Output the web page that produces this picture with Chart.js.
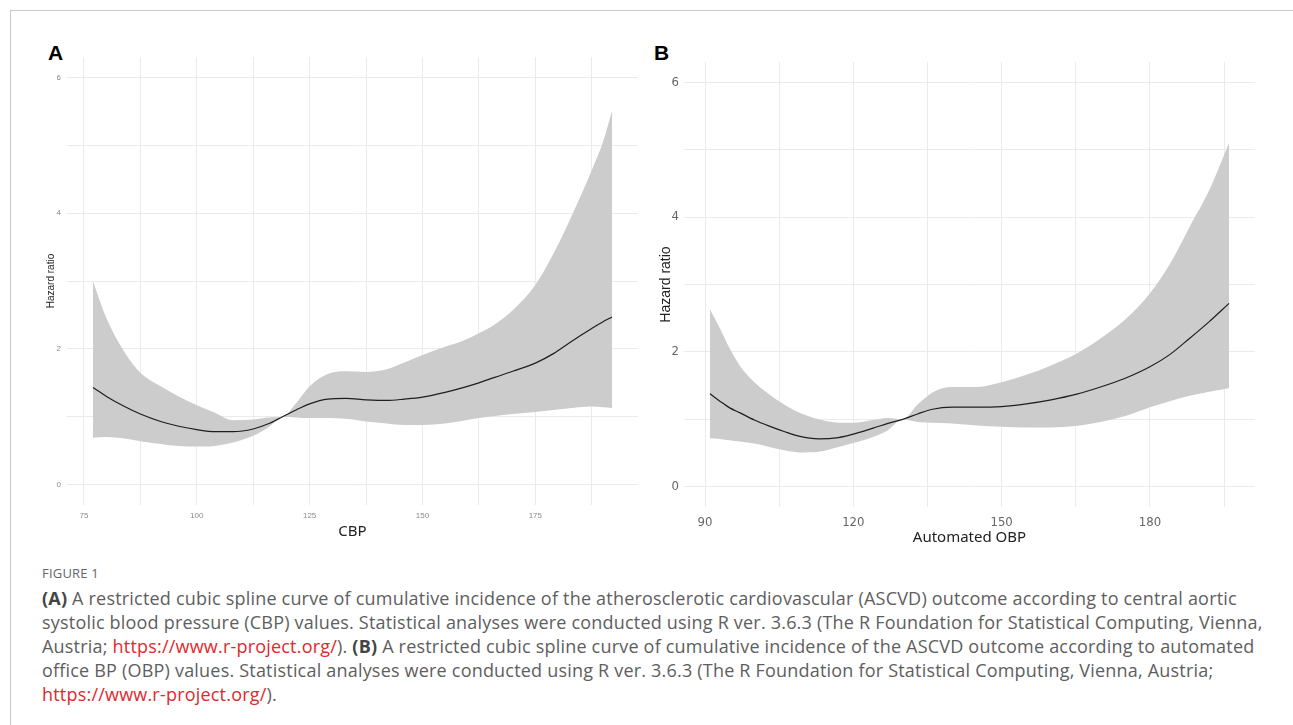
<!DOCTYPE html>
<html>
<head>
<meta charset="utf-8">
<script src="https://cdn.jsdelivr.net/npm/chart.js@4.4.1/dist/chart.umd.min.js"></script>
<style>
    body { margin: 0; width: 1293px; height: 725px; background: #fff; position: relative; overflow: hidden; font-family: 'Open Sans', sans-serif; }
    .frame { position: absolute; left: 10px; top: 10px; width: 1290px; height: 720px; border-top: 1px solid #c9c9c9; border-left: 1px solid #c9c9c9; }
    .tag { position: absolute; top: 41px; font: bold 21px 'Liberation Sans', Arial, sans-serif; color: #000; }
    #wrapA { position: absolute; left: 30px; top: 40px; }
    #wrapB { position: absolute; left: 650px; top: 40px; }
    .fig-label { position: absolute; left: 42px; top: 564px; font-size: 13px; color: #666; letter-spacing: 0.2px; }
    .caption { position: absolute; left: 42px; top: 586px; font-size: 18px; letter-spacing: 0.2px; line-height: 24px; color: #5e5e5e; white-space: nowrap; }
    .caption a { color: #e0282e; text-decoration: none; }
    .caption b { color: #444; }
</style>
</head>
<body>
<div class="frame"></div>
<div class="tag" style="left:48px">A</div>
<div class="tag" style="left:654px">B</div>
<div id="wrapA"><canvas id="chartA" width="620" height="510"></canvas></div>
<div id="wrapB"><canvas id="chartB" width="620" height="520"></canvas></div>
<div class="fig-label">FIGURE 1</div>
<div class="caption">
<b>(A)</b> A restricted cubic spline curve of cumulative incidence of the atherosclerotic cardiovascular (ASCVD) outcome according to central aortic<br>
systolic blood pressure (CBP) values. Statistical analyses were conducted using R ver. 3.6.3 (The R Foundation for Statistical Computing, Vienna,<br>
Austria; <a>https://www.r-project.org/</a>). <b>(B)</b> A restricted cubic spline curve of cumulative incidence of the ASCVD outcome according to automated<br>
office BP (OBP) values. Statistical analyses were conducted using R ver. 3.6.3 (The R Foundation for Statistical Computing, Vienna, Austria;<br>
<a>https://www.r-project.org/</a>).
</div>
<script>
// Panel A: central aortic systolic BP
const cbpX     = [77, 80, 84, 87.5, 92, 96, 100, 104, 108, 112.5, 116, 119, 122, 125, 129, 133, 137.5, 142, 146, 150, 155, 159, 162.5, 166, 170, 175, 179, 183, 187.5, 190, 192];
const cbpHR    = [1.43, 1.30, 1.15, 1.04, 0.93, 0.86, 0.81, 0.78, 0.78, 0.82, 0.90, 1.00, 1.10, 1.19, 1.26, 1.27, 1.25, 1.24, 1.26, 1.29, 1.36, 1.43, 1.50, 1.58, 1.67, 1.79, 1.93, 2.11, 2.30, 2.40, 2.47];
const cbpUpper = [3.00, 2.45, 1.95, 1.65, 1.45, 1.30, 1.17, 1.06, 0.95, 0.96, 0.99, 1.00, 1.20, 1.45, 1.63, 1.67, 1.66, 1.70, 1.80, 1.91, 2.03, 2.12, 2.23, 2.36, 2.57, 2.94, 3.40, 3.95, 4.63, 5.05, 5.51];
const cbpLower = [0.69, 0.70, 0.68, 0.64, 0.60, 0.57, 0.56, 0.57, 0.62, 0.72, 0.85, 1.00, 0.99, 0.98, 0.98, 0.97, 0.93, 0.90, 0.88, 0.88, 0.90, 0.94, 0.98, 1.01, 1.04, 1.07, 1.10, 1.13, 1.15, 1.14, 1.13];
const cbpGrid   = [75, 87.5, 100, 112.5, 125, 137.5, 150, 162.5, 175, 187.5];
const cbpLabels = [75, 100, 125, 150, 175];

// Panel B: automated office BP
const obpX     = [91, 93, 95, 97, 100, 103, 106, 109, 113, 117, 120, 124, 127, 130, 133, 136, 140, 145, 150, 155, 160, 165, 170, 175, 180, 184, 188, 192, 196];
const obpHR    = [1.38, 1.27, 1.17, 1.10, 0.99, 0.90, 0.82, 0.75, 0.71, 0.73, 0.78, 0.87, 0.94, 1.00, 1.08, 1.15, 1.18, 1.18, 1.19, 1.23, 1.29, 1.37, 1.48, 1.61, 1.78, 1.96, 2.20, 2.45, 2.72];
const obpUpper = [2.63, 2.35, 2.05, 1.80, 1.55, 1.37, 1.22, 1.10, 1.00, 0.95, 0.95, 0.99, 1.02, 1.00, 1.22, 1.40, 1.48, 1.48, 1.55, 1.66, 1.80, 1.97, 2.20, 2.48, 2.87, 3.30, 3.85, 4.40, 5.10];
const obpLower = [0.72, 0.71, 0.69, 0.67, 0.64, 0.59, 0.54, 0.51, 0.52, 0.59, 0.65, 0.74, 0.84, 1.00, 0.96, 0.95, 0.94, 0.91, 0.89, 0.88, 0.88, 0.90, 0.96, 1.05, 1.18, 1.27, 1.35, 1.41, 1.46];
const obpGrid   = [90, 105, 120, 135, 150, 165, 180, 195];
const obpLabels = [90, 120, 150, 180];

const hrGrid   = [0, 1, 2, 3, 4, 5, 6];
const hrLabels = [0, 2, 4, 6];

const makeSplineChart = (canvasId, cfg) => {
    const toPoints = ys => cfg.x.map((x, i) => ({ x: x, y: ys[i] }));
    const curve = { pointRadius: 0, cubicInterpolationMode: 'monotone' };

    return new Chart(document.getElementById(canvasId), {
        type: 'line',
        data: {
            datasets: [
                { ...curve, label: 'upper', data: toPoints(cfg.upper), borderWidth: 0, borderColor: 'rgba(0,0,0,0)', backgroundColor: '#cccccc', fill: 1 },
                { ...curve, label: 'lower', data: toPoints(cfg.lower), borderWidth: 0, borderColor: 'rgba(0,0,0,0)', fill: false },
                { ...curve, label: 'Hazard ratio', data: toPoints(cfg.hr), borderColor: '#1e1e1e', borderWidth: 1.2, fill: false }
            ]
        },
        options: {
            responsive: false,
            animation: false,
            layout: { padding: cfg.padding },
            plugins: {
                legend: { display: false },
                tooltip: { enabled: false },
                filler: { drawTime: 'beforeDatasetsDraw' }
            },
            scales: {
                x: {
                    type: 'linear',
                    min: cfg.xMin,
                    max: cfg.xMax,
                    afterBuildTicks: s => { s.ticks = cfg.xGrid.map(v => ({ value: v })); },
                    afterFit: s => { s.height = cfg.xAxisHeight; },
                    grid: { color: '#ebebeb', drawTicks: false },
                    border: { display: false },
                    ticks: {
                        autoSkip: false,
                        maxRotation: 0,
                        padding: cfg.xTickPad,
                        color: cfg.tickColor,
                        font: cfg.tickFont,
                        callback: v => cfg.xLabels.includes(v) ? String(v) : ''
                    },
                    title: { display: true, text: cfg.xTitle, color: '#222', font: cfg.xTitleFont, padding: { top: 0, bottom: cfg.xTitlePad } }
                },
                y: {
                    type: 'linear',
                    min: -0.3,
                    max: 6.3,
                    afterBuildTicks: s => { s.ticks = hrGrid.map(v => ({ value: v })); },
                    afterFit: s => { s.width = cfg.yAxisWidth; },
                    grid: { color: '#ebebeb', drawTicks: false },
                    border: { display: false },
                    ticks: {
                        autoSkip: false,
                        padding: cfg.yTickPad,
                        color: cfg.tickColor,
                        font: cfg.tickFont,
                        callback: v => hrLabels.includes(v) ? String(v) : ''
                    },
                    title: { display: true, text: 'Hazard ratio', color: '#222', font: cfg.yTitleFont, padding: { top: cfg.yTitlePad, bottom: 0 } }
                }
            }
        }
    });
};

makeSplineChart('chartA', {
    x: cbpX, hr: cbpHR, upper: cbpUpper, lower: cbpLower,
    xGrid: cbpGrid, xLabels: cbpLabels, xMin: 71.25, xMax: 197.75,
    xTitle: 'CBP',
    padding: { top: 17, right: 12, left: 0, bottom: 0 },
    xAxisHeight: 45, yAxisWidth: 37,
    xTickPad: 6, yTickPad: 6, xTitlePad: 9, yTitlePad: 15,
    tickColor: '#8a8a8a',
    tickFont: { family: "'Liberation Sans', Arial, sans-serif", size: 8 },
    xTitleFont: { family: "'Noto Sans', sans-serif", size: 15 },
    yTitleFont: { family: "'Liberation Sans', Arial, sans-serif", size: 10 }
});

makeSplineChart('chartB', {
    x: obpX, hr: obpHR, upper: obpUpper, lower: obpLower,
    xGrid: obpGrid, xLabels: obpLabels, xMin: 85.75, xMax: 201.25,
    xTitle: 'Automated OBP',
    padding: { top: 22, right: 15, left: 0, bottom: 0 },
    xAxisHeight: 53, yAxisWidth: 34,
    xTickPad: 8, yTickPad: 5, xTitlePad: 13, yTitlePad: 8,
    tickColor: '#666666',
    tickFont: { family: "'Liberation Sans Narrow', 'DejaVu Sans Condensed', sans-serif", size: 13 },
    xTitleFont: { family: "'Noto Sans', sans-serif", size: 15 },
    yTitleFont: { family: "'Liberation Sans', Arial, sans-serif", size: 14 }
});
</script>
</body>
</html>
